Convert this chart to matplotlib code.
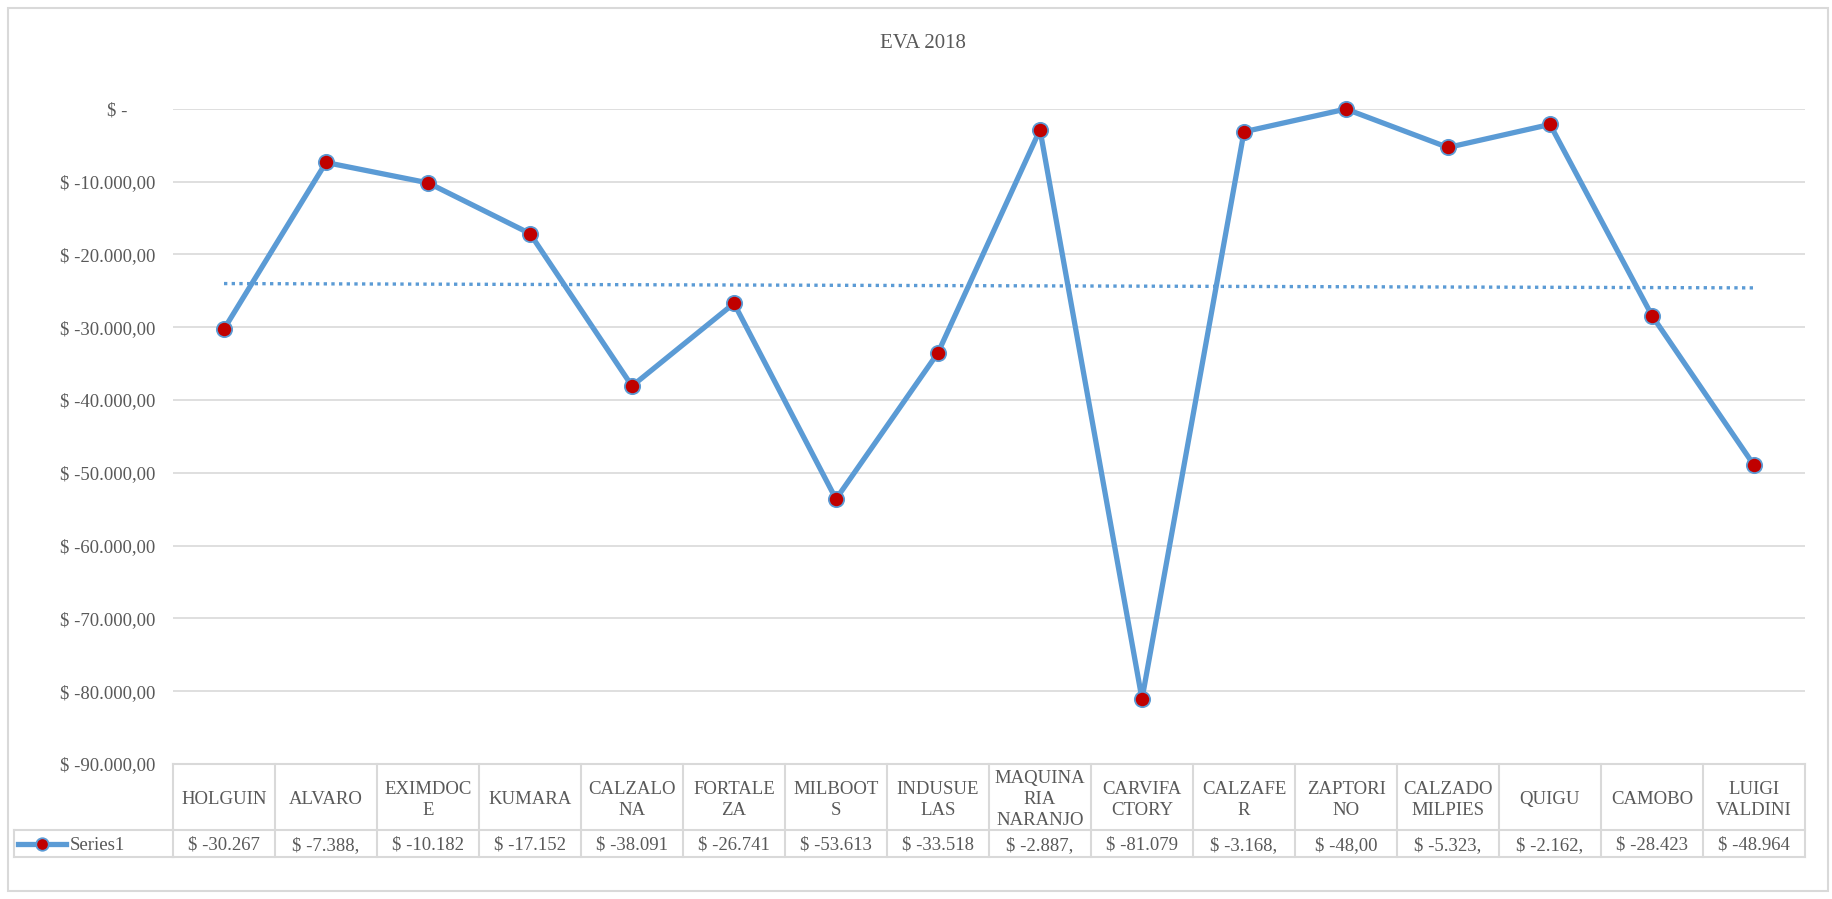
import numpy as np
import matplotlib.pyplot as plt
from matplotlib import transforms
from matplotlib.lines import Line2D
from matplotlib.patches import Rectangle

# data
companies = ["HOLGUIN", "ALVARO", "EXIMDOC\nE", "KUMARA", "CALZALO\nNA",
             "FORTALE\nZA", "MILBOOT\nS", "INDUSUE\nLAS", "MAQUINA\nRIA\nNARANJO",
             "CARVIFA\nCTORY", "CALZAFE\nR", "ZAPTORI\nNO", "CALZADO\nMILPIES",
             "QUIGU", "CAMOBO", "LUIGI\nVALDINI"]
eva = [-30267, -7388, -10182, -17152, -38091, -26741, -53613, -33518,
       -2887, -81079, -3168, -48, -5323, -2162, -28423, -48964]
yticks = [0, -10000, -20000, -30000, -40000, -50000, -60000, -70000, -80000, -90000]

plt.rcParams['font.family'] = ['Liberation Serif', 'DejaVu Serif']
gray = "#595959"
gridc = "#D9D9D9"
blue = "#5B9BD5"
red = "#C00000"
fs = 13.5


def money(v):
    if v == 0:
        return "$ -      "
    s = "{:,.2f}".format(abs(v)).replace(",", "X").replace(".", ",").replace("X", ".")
    return "$ -" + s


fig = plt.figure(figsize=(18.32, 8.99), dpi=100)
W, H = 1832, 899
ax = fig.add_axes([173 / W, 1 - 764 / H, (1805 - 173) / W, (764 - 108.7) / H])

xs = np.arange(len(eva))
ax.plot(xs, eva, color=blue, lw=3.8, marker="o", ms=11, mfc=red, mec=blue,
        mew=1.3, clip_on=False, zorder=5)

# linear trend line
k, b = np.polyfit(xs, eva, 1)
ax.plot(xs, k * xs + b, color=blue, lw=2.4, ls=(0, (1, 1.3)), zorder=4)

ax.set_xlim(-0.5, len(eva) - 0.5)
ax.set_ylim(-90000, 0)
ax.set_yticks(yticks)
ax.set_yticklabels([money(v) for v in yticks], fontsize=fs, color=gray)
ax.tick_params(axis="y", length=0, pad=12.5)
ax.set_xticks([])
for sp in ax.spines.values():
    sp.set_visible(False)
for v in yticks[:-1]:
    ax.axhline(v, color=gridc, lw=1.2, zorder=1)

fig.text(923 / W, 1 - 43 / H, "EVA 2018", ha="center", va="center",
         fontsize=15, color=gray)

# data table under the axis
tr = transforms.blended_transform_factory(ax.transData, fig.transFigure)
y_top = 1 - 764 / H
y_mid = 1 - 830 / H
y_bot = 1 - 857 / H
x_left = 14 / W
x_plot = 173 / W

def fline(xa, xb, ya, yb, transform):
    fig.add_artist(Line2D([xa, xb], [ya, yb], color=gridc, lw=1.5,
                          transform=transform, clip_on=False))

fline(-0.5, len(eva) - 0.5, y_top, y_top, tr)
fline(x_left, x_plot, y_mid, y_mid, fig.transFigure)
fline(-0.5, len(eva) - 0.5, y_mid, y_mid, tr)
fline(x_left, x_plot, y_bot, y_bot, fig.transFigure)
fline(-0.5, len(eva) - 0.5, y_bot, y_bot, tr)
fline(x_left, x_left, y_mid, y_bot, fig.transFigure)
for i in range(len(eva) + 1):
    fline(i - 0.5, i - 0.5, y_top, y_bot, tr)

for i, (name, v) in enumerate(zip(companies, eva)):
    fig.text(i, (y_top + y_mid) / 2 - 0.003, name, transform=tr, ha="center",
             va="center", fontsize=fs, color=gray, linespacing=1.3)
    fig.text(i, (y_mid + y_bot) / 2 - 0.002, money(v)[:9], transform=tr,
             ha="center", va="center", fontsize=fs, color=gray)

# legend key in the table
ly = (y_mid + y_bot) / 2
fig.add_artist(Line2D([18 / W, 66 / W], [ly, ly], color=blue, lw=3.8,
                      transform=fig.transFigure))
fig.add_artist(Line2D([42 / W], [ly], marker="o", ms=9, mfc=red, mec=blue,
                      mew=1.3, transform=fig.transFigure))
fig.text(70 / W, ly - 0.002, "Series1", ha="left", va="center", fontsize=fs,
         color=gray)

# chart border
fig.add_artist(Rectangle((8 / W, 8 / H), 1820 / W, 883 / H, fill=False,
                         ec=gridc, lw=1.5, transform=fig.transFigure))

fig.savefig("out.png", dpi=100, facecolor="white")
